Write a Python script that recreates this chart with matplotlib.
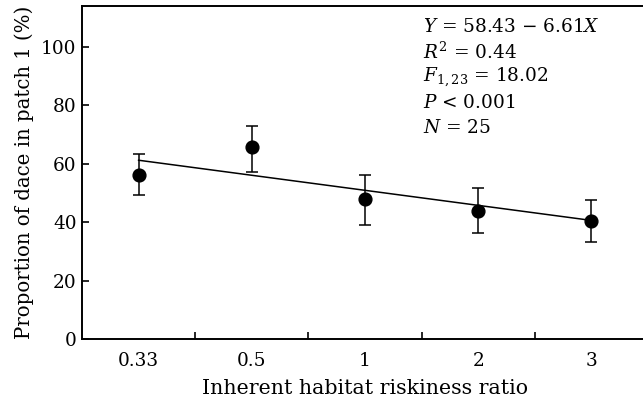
import matplotlib
matplotlib.use("Agg")
import matplotlib.pyplot as plt

plt.rcParams["font.family"] = ["DejaVu Serif"]
plt.rcParams["mathtext.fontset"] = "dejavuserif"

# inherent habitat riskiness ratio (categorical)
ratios = ["0.33", "0.5", "1", "2", "3"]
mean_pct = [56.2, 65.7, 47.8, 43.9, 40.5]
err_upper = [63.2, 73.0, 56.0, 51.8, 47.5]
err_lower = [49.3, 57.3, 39.0, 36.2, 33.3]
fit_start, fit_end = 61.2, 40.6

stats_lines = [
    r"$Y$ = 58.43 − 6.61$X$",
    r"$R^2$ = 0.44",
    r"$F_{1,23}$ = 18.02",
    r"$P$ < 0.001",
    r"$N$ = 25",
]

FS = 13.3
W, H = 643, 403
fig = plt.figure(figsize=(W / 100, H / 100), dpi=100)
# the frame runs a little past the right edge of the picture
ax = fig.add_axes([82 / W, (H - 339) / H, (648 - 82) / W, 333 / H])

x = list(range(len(ratios)))
yerr = [[m - lo for m, lo in zip(mean_pct, err_lower)],
        [hi - m for m, hi in zip(mean_pct, err_upper)]]
ax.errorbar(x, mean_pct, yerr=yerr, fmt="o", color="black", ms=9.2,
            ecolor="black", elinewidth=1.1, capsize=4, capthick=1.1, zorder=3)
ax.plot([x[0], x[-1]], [fit_start, fit_end], color="black", lw=1.1)

ax.set_xlim(-0.5, 4.5)
ax.set_ylim(0, 114)
ax.set_xticks(x)
ax.set_xticklabels(ratios)
ax.set_xticks([0.5, 1.5, 2.5, 3.5], minor=True)
ax.set_yticks([0, 20, 40, 60, 80, 100])
ax.tick_params(axis="x", which="major", length=0, pad=9, labelsize=FS)
ax.tick_params(axis="x", which="minor", direction="in", length=5, width=1.2)
ax.tick_params(axis="y", direction="in", length=5, width=1.2, pad=4, labelsize=FS)

for side in ["left", "bottom", "top"]:
    ax.spines[side].set_linewidth(1.4)
ax.spines["right"].set_visible(False)

ax.set_xlabel("Inherent habitat riskiness ratio", fontsize=14.8, labelpad=7)
ax.set_ylabel("Proportion of dace in patch 1 (%)", fontsize=14.2, labelpad=5)

for i, line in enumerate(stats_lines):
    fig.text(423 / W, 1 - (27 + 25.2 * i) / H, line, fontsize=FS,
             ha="left", va="center")

fig.savefig("out.png", dpi=100)
